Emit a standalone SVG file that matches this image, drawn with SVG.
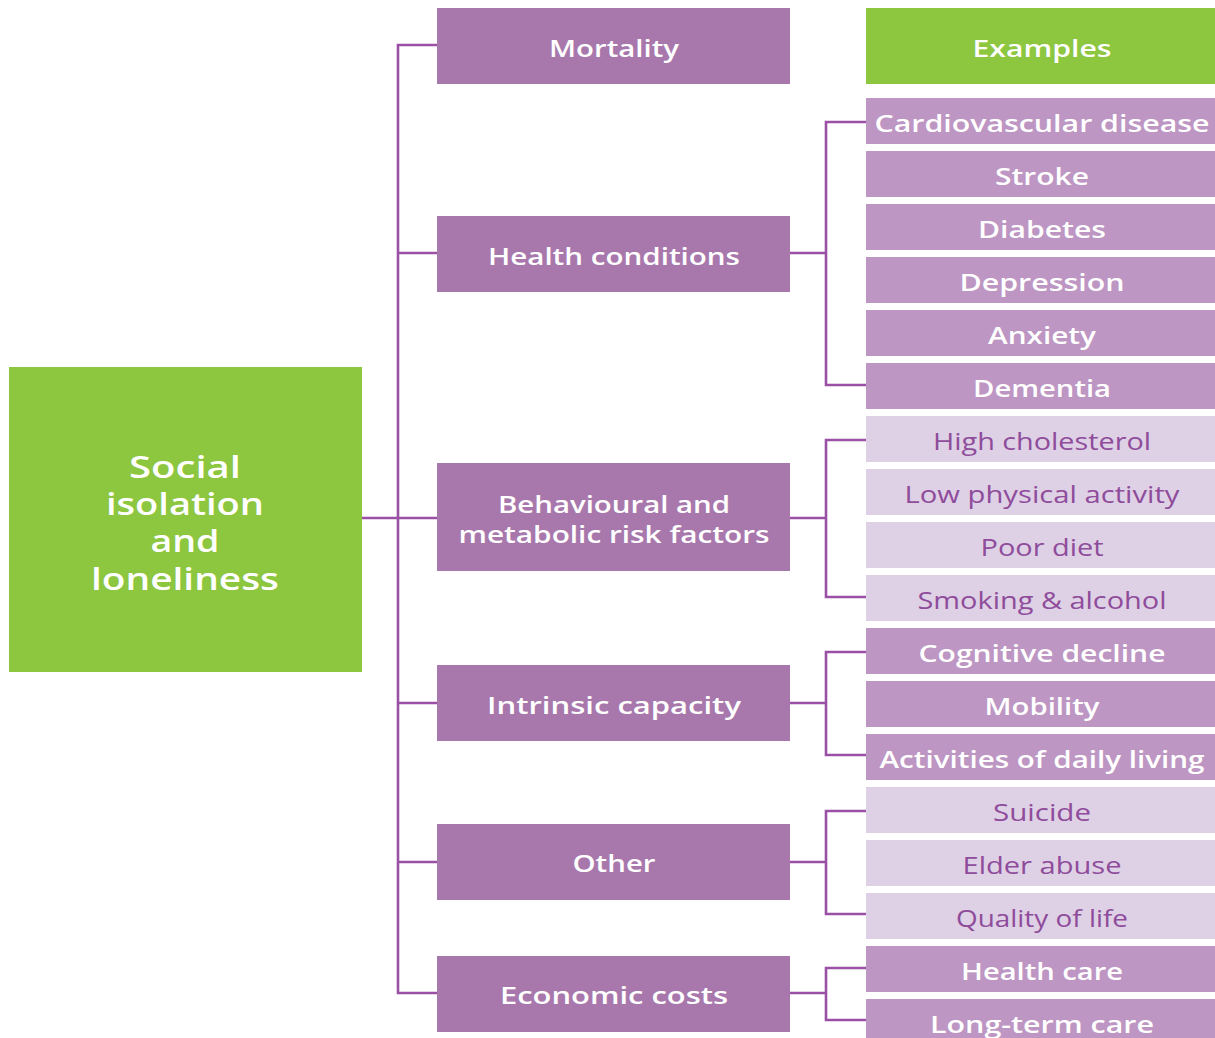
<svg xmlns="http://www.w3.org/2000/svg" width="1215" height="1038" viewBox="0 0 1215 1038">
  <style>
    .green { fill: #8DC63F; }
    .mid { fill: #A878AD; }
    .dark { fill: #BD96C3; }
    .light { fill: #DED0E5; }
    text { font-family: "Open Sans", "Liberation Sans", sans-serif; text-anchor: middle; }
    .t-main { fill: #ffffff; font-size: 30px; font-weight: 600; }
    .t-mid { fill: #ffffff; font-size: 24px; font-weight: 600; }
    .t-dark { fill: #ffffff; font-size: 24px; font-weight: 600; }
    .t-light { fill: #8E4C9B; font-size: 24px; font-weight: 400; }
    .wire { fill: none; stroke: #9A50A5; stroke-width: 2.6; }
  </style>
  <rect width="1215" height="1038" fill="#ffffff"/>

  <!-- connectors -->
  <g id="connectors" class="wire">
    <path d="M362 518 H437"/>
    <path d="M437 45 H398 V993 H437"/>
    <path d="M398 253 H437"/>
    <path d="M398 703 H437"/>
    <path d="M398 862 H437"/>
    <!-- health conditions branch -->
    <path d="M790 253 H826"/>
    <path d="M866 122 H826 V385 H866"/>
    <!-- risk factors branch -->
    <path d="M790 518 H826"/>
    <path d="M866 440 H826 V597 H866"/>
    <!-- intrinsic capacity branch -->
    <path d="M790 703 H826"/>
    <path d="M866 652 H826 V755 H866"/>
    <!-- other branch -->
    <path d="M790 862 H826"/>
    <path d="M866 811 H826 V914 H866"/>
    <!-- economic costs branch -->
    <path d="M790 993 H826"/>
    <path d="M866 968 H826 V1020 H866"/>
  </g>

  <!-- root -->
  <g id="social-isolation">
    <rect class="green" x="9" y="367" width="353" height="305"/>
    <text class="t-main" x="185" y="478" textLength="112" lengthAdjust="spacingAndGlyphs">Social</text>
    <text class="t-main" x="185" y="515" textLength="158" lengthAdjust="spacingAndGlyphs">isolation</text>
    <text class="t-main" x="185" y="552" textLength="69" lengthAdjust="spacingAndGlyphs">and</text>
    <text class="t-main" x="185" y="590" textLength="188" lengthAdjust="spacingAndGlyphs">loneliness</text>
  </g>

  <!-- outcome categories -->
  <g id="mortality">
    <rect class="mid" x="437" y="8" width="353" height="76"/>
    <text class="t-mid" x="614" y="57" textLength="130" lengthAdjust="spacingAndGlyphs">Mortality</text>
  </g>
  <g id="health-conditions">
    <rect class="mid" x="437" y="216" width="353" height="76"/>
    <text class="t-mid" x="614" y="265" textLength="252" lengthAdjust="spacingAndGlyphs">Health conditions</text>
  </g>
  <g id="risk-factors">
    <rect class="mid" x="437" y="463" width="353" height="108"/>
    <text class="t-mid" x="614" y="513" textLength="232" lengthAdjust="spacingAndGlyphs">Behavioural and</text>
    <text class="t-mid" x="614" y="543" textLength="311" lengthAdjust="spacingAndGlyphs">metabolic risk factors</text>
  </g>
  <g id="intrinsic-capacity">
    <rect class="mid" x="437" y="665" width="353" height="76"/>
    <text class="t-mid" x="614" y="714" textLength="254" lengthAdjust="spacingAndGlyphs">Intrinsic capacity</text>
  </g>
  <g id="other">
    <rect class="mid" x="437" y="824" width="353" height="76"/>
    <text class="t-mid" x="614" y="872" textLength="83" lengthAdjust="spacingAndGlyphs">Other</text>
  </g>
  <g id="economic-costs">
    <rect class="mid" x="437" y="956" width="353" height="76"/>
    <text class="t-mid" x="614" y="1004" textLength="228" lengthAdjust="spacingAndGlyphs">Economic costs</text>
  </g>

  <!-- examples column -->
  <g id="examples">
    <rect class="green" x="866" y="8" width="349" height="76"/>
    <text class="t-dark" x="1042" y="57" textLength="139" lengthAdjust="spacingAndGlyphs">Examples</text>
  </g>
  <g id="cardiovascular-disease">
    <rect class="dark" x="866" y="98" width="349" height="46"/>
    <text class="t-dark" x="1042" y="132" textLength="335" lengthAdjust="spacingAndGlyphs">Cardiovascular disease</text>
  </g>
  <g id="stroke">
    <rect class="dark" x="866" y="151" width="349" height="46"/>
    <text class="t-dark" x="1042" y="185" textLength="94" lengthAdjust="spacingAndGlyphs">Stroke</text>
  </g>
  <g id="diabetes">
    <rect class="dark" x="866" y="204" width="349" height="46"/>
    <text class="t-dark" x="1042" y="238" textLength="128" lengthAdjust="spacingAndGlyphs">Diabetes</text>
  </g>
  <g id="depression">
    <rect class="dark" x="866" y="257" width="349" height="46"/>
    <text class="t-dark" x="1042" y="291" textLength="165" lengthAdjust="spacingAndGlyphs">Depression</text>
  </g>
  <g id="anxiety">
    <rect class="dark" x="866" y="310" width="349" height="46"/>
    <text class="t-dark" x="1042" y="344" textLength="108" lengthAdjust="spacingAndGlyphs">Anxiety</text>
  </g>
  <g id="dementia">
    <rect class="dark" x="866" y="363" width="349" height="46"/>
    <text class="t-dark" x="1042" y="397" textLength="138" lengthAdjust="spacingAndGlyphs">Dementia</text>
  </g>
  <g id="high-cholesterol">
    <rect class="light" x="866" y="416" width="349" height="46"/>
    <text class="t-light" x="1042" y="450" textLength="218" lengthAdjust="spacingAndGlyphs">High cholesterol</text>
  </g>
  <g id="low-physical-activity">
    <rect class="light" x="866" y="469" width="349" height="46"/>
    <text class="t-light" x="1042" y="503" textLength="275" lengthAdjust="spacingAndGlyphs">Low physical activity</text>
  </g>
  <g id="poor-diet">
    <rect class="light" x="866" y="522" width="349" height="46"/>
    <text class="t-light" x="1042" y="556" textLength="123" lengthAdjust="spacingAndGlyphs">Poor diet</text>
  </g>
  <g id="smoking-alcohol">
    <rect class="light" x="866" y="575" width="349" height="46"/>
    <text class="t-light" x="1042" y="609" textLength="249" lengthAdjust="spacingAndGlyphs">Smoking &amp; alcohol</text>
  </g>
  <g id="cognitive-decline">
    <rect class="dark" x="866" y="628" width="349" height="46"/>
    <text class="t-dark" x="1042" y="662" textLength="247" lengthAdjust="spacingAndGlyphs">Cognitive decline</text>
  </g>
  <g id="mobility">
    <rect class="dark" x="866" y="681" width="349" height="46"/>
    <text class="t-dark" x="1042" y="715" textLength="115" lengthAdjust="spacingAndGlyphs">Mobility</text>
  </g>
  <g id="daily-living">
    <rect class="dark" x="866" y="734" width="349" height="46"/>
    <text class="t-dark" x="1042" y="768" textLength="325" lengthAdjust="spacingAndGlyphs">Activities of daily living</text>
  </g>
  <g id="suicide">
    <rect class="light" x="866" y="787" width="349" height="46"/>
    <text class="t-light" x="1042" y="821" textLength="98" lengthAdjust="spacingAndGlyphs">Suicide</text>
  </g>
  <g id="elder-abuse">
    <rect class="light" x="866" y="840" width="349" height="46"/>
    <text class="t-light" x="1042" y="874" textLength="159" lengthAdjust="spacingAndGlyphs">Elder abuse</text>
  </g>
  <g id="quality-of-life">
    <rect class="light" x="866" y="893" width="349" height="46"/>
    <text class="t-light" x="1042" y="927" textLength="172" lengthAdjust="spacingAndGlyphs">Quality of life</text>
  </g>
  <g id="health-care">
    <rect class="dark" x="866" y="946" width="349" height="46"/>
    <text class="t-dark" x="1042" y="980" textLength="162" lengthAdjust="spacingAndGlyphs">Health care</text>
  </g>
  <g id="long-term-care">
    <rect class="dark" x="866" y="999" width="349" height="46"/>
    <text class="t-dark" x="1042" y="1033" textLength="224" lengthAdjust="spacingAndGlyphs">Long-term care</text>
  </g>
</svg>
